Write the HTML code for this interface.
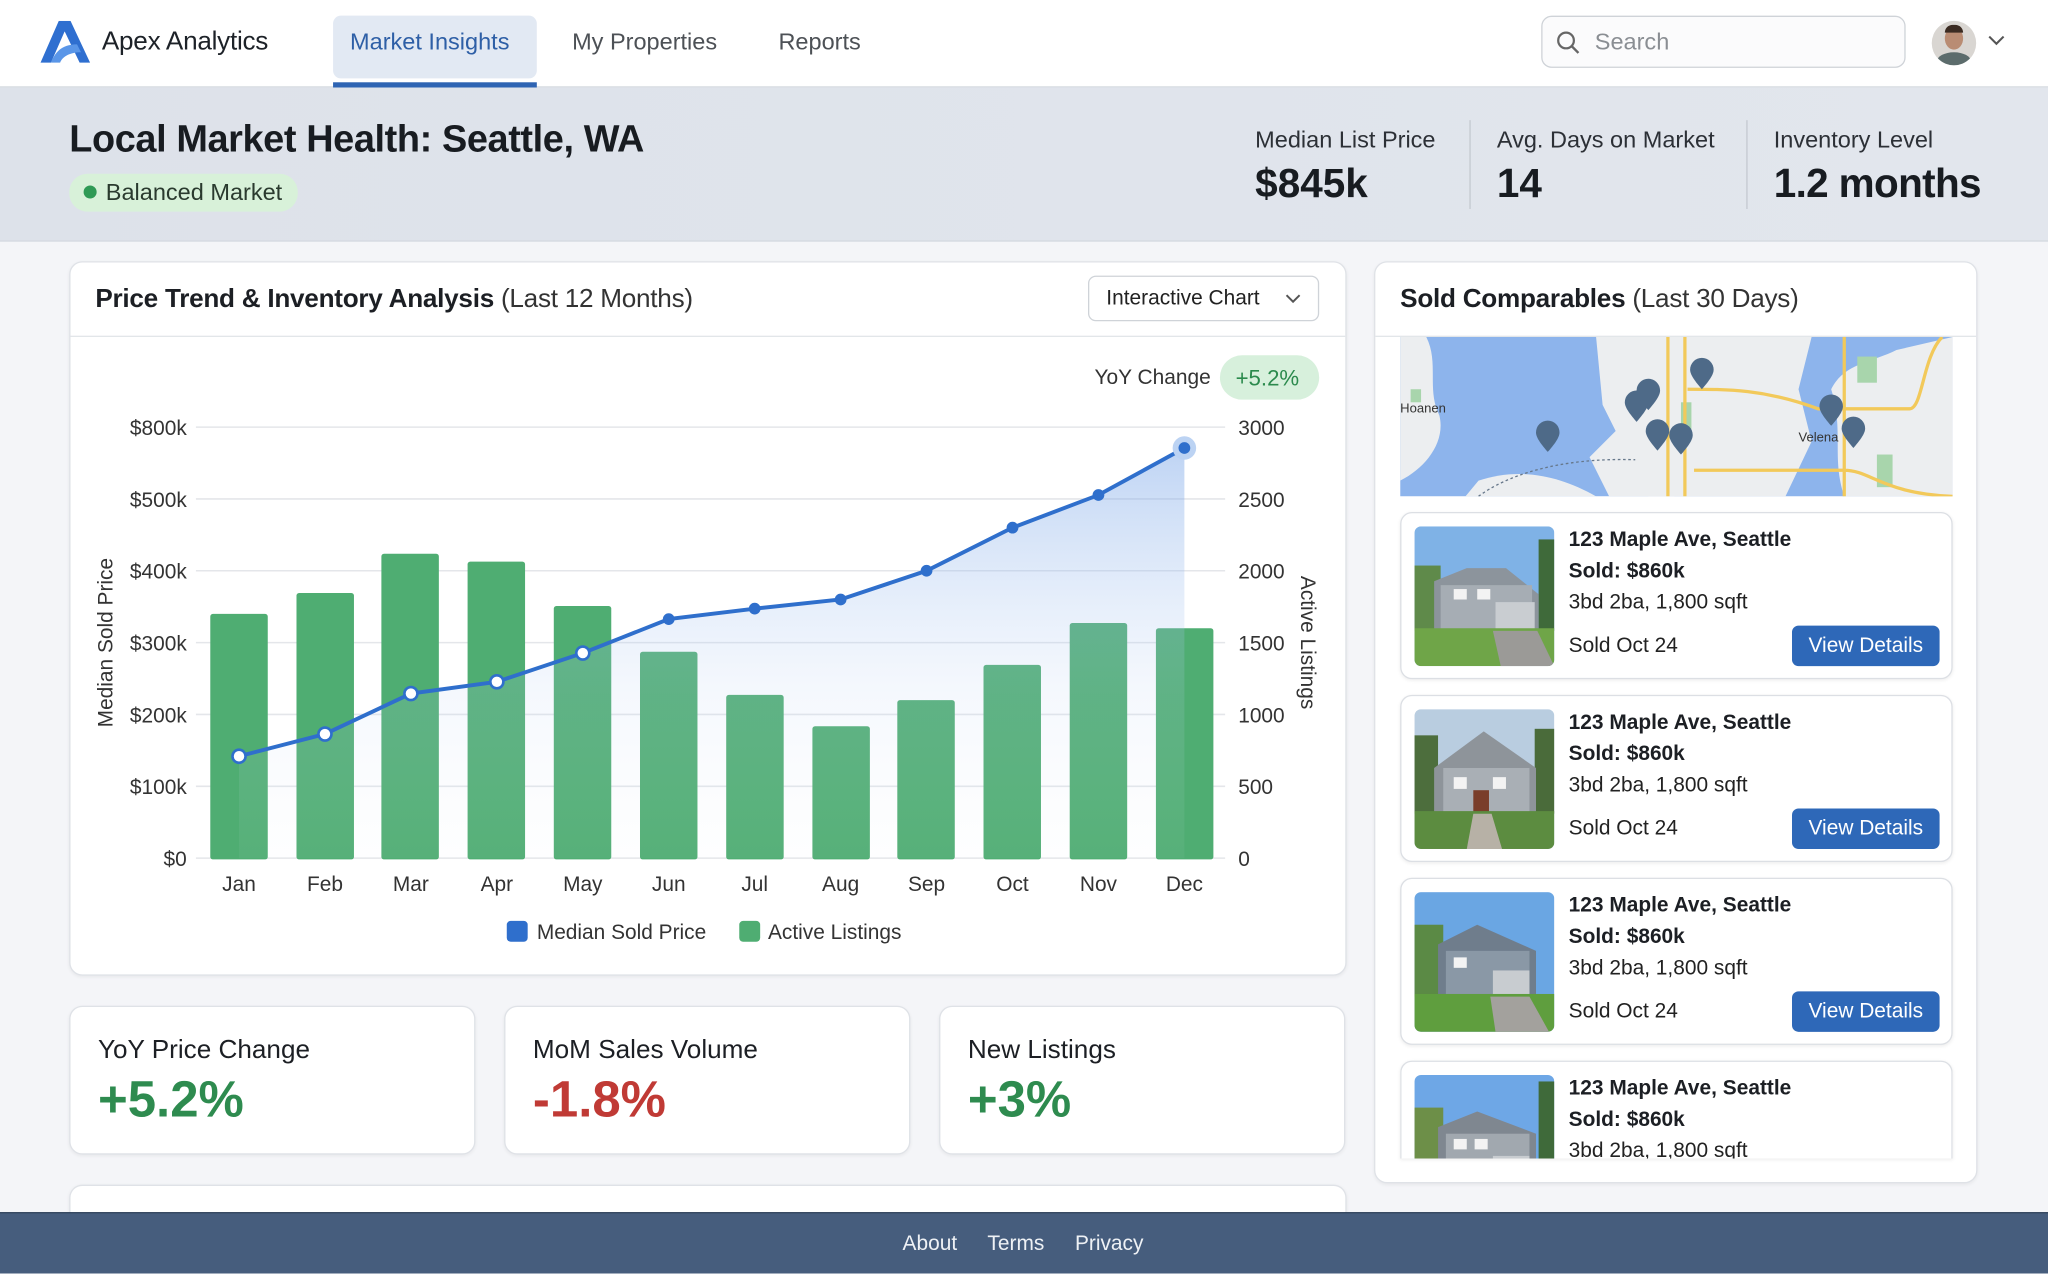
<!DOCTYPE html>
<html><head><meta charset="utf-8">
<style>
*{box-sizing:border-box;margin:0;padding:0}
html,body{width:2048px;height:1274px;overflow:hidden;background:#f4f5f7;font-family:"Liberation Sans",sans-serif;color:#1d2228}
#w{position:absolute;left:0;top:0;width:1568px;height:975px;transform:scale(1.306122);transform-origin:0 0;background:#f4f5f8}
.a{position:absolute;white-space:nowrap}
.card{position:absolute;background:#fff;border:1px solid #dfe2e7;border-radius:10px;box-shadow:0 1px 3px rgba(0,0,0,.06)}
.lc{position:absolute;left:1072px;width:423px;height:128px;background:#fff;border:1px solid #dcdfe4;border-radius:9px;box-shadow:0 1px 3px rgba(0,0,0,.07);overflow:hidden}
.lc svg{position:absolute;left:10px;top:10px;border-radius:5px}
.lc .t1{position:absolute;left:128px;top:12px;font-size:16px;font-weight:bold;color:#1c1f24}
.lc .t2{position:absolute;left:128px;top:36px;font-size:16px;font-weight:bold;color:#1c1f24}
.lc .t3{position:absolute;left:128px;top:60px;font-size:16px;color:#222}
.lc .t4{position:absolute;left:128px;top:93px;font-size:16px;color:#222}
.lc .btn{position:absolute;left:299px;top:86px;width:113px;height:31px;background:#2e68b8;color:#fff;border-radius:5px;font-size:16px;text-align:center;line-height:31px}
</style></head><body><div id="w">

<!-- nav -->
<div class="a" style="left:0;top:0;width:1568px;height:67px;background:#fff;border-bottom:1px solid #d9dde3"></div>
<svg class="a" style="left:31px;top:16px" width="38" height="32" viewBox="0 0 38 32"><path d="M14 0h9l15 32h-8L18.5 8 8 32H0z" fill="#2f6fd0"/><path d="M8 32c4-10 10-14 20-14l3 6c-8 0-14 3-16 8z" fill="#5a96e8"/></svg>
<div class="a" style="left:78px;top:21px;font-size:20px;color:#1d2228;letter-spacing:-0.2px">Apex Analytics</div>
<div class="a" style="left:255px;top:12px;width:156px;height:48px;background:#e2e9f3;border-radius:6px"></div>
<div class="a" style="left:255px;top:63px;width:156px;height:4px;background:#2e64b3"></div>
<div class="a" style="left:268px;top:22px;font-size:18px;color:#2e5fa6">Market Insights</div>
<div class="a" style="left:438px;top:22px;font-size:18px;color:#4d5156">My Properties</div>
<div class="a" style="left:596px;top:22px;font-size:18px;color:#4d5156">Reports</div>
<div class="a" style="left:1180px;top:12px;width:279px;height:40px;border:1px solid #cfd3d8;border-radius:8px;background:#fbfbfc"></div>
<svg class="a" style="left:1191px;top:23px" width="20" height="20" viewBox="0 0 20 20"><circle cx="8" cy="8" r="6" fill="none" stroke="#666" stroke-width="1.7"/><path d="M12.5 12.5l5 5" stroke="#666" stroke-width="1.8"/></svg>
<div class="a" style="left:1221px;top:22px;font-size:18px;color:#8a8e93">Search</div>
<div class="a" style="left:1479px;top:16px;width:34px;height:34px;border-radius:50%;background:#d9d6d2;overflow:hidden"><div style="position:absolute;left:10px;top:5px;width:14px;height:17px;border-radius:50%;background:#b98c73"></div><div style="position:absolute;left:10px;top:3px;width:14px;height:6px;border-radius:6px 6px 0 0;background:#3b2b22"></div><div style="position:absolute;left:4px;top:24px;width:26px;height:14px;border-radius:50% 50% 0 0;background:#5c6c6c"></div></div>
<svg class="a" style="left:1522px;top:27px" width="13" height="9"><path d="M1 1l5.5 5.5L12 1" fill="none" stroke="#555" stroke-width="1.6"/></svg>

<!-- header band -->
<div class="a" style="left:0;top:67px;width:1568px;height:118px;background:linear-gradient(90deg,#dde2ea,#e2e6ed);border-bottom:1px solid #d2d7de"></div>
<div class="a" style="left:53px;top:91px;font-size:29px;font-weight:bold;color:#181c21;letter-spacing:-0.3px">Local Market Health: Seattle, WA</div>
<div class="a" style="left:53px;top:133px;width:175px;height:29px;background:#d8f1d9;border-radius:14px"></div>
<div class="a" style="left:64px;top:142px;width:10px;height:10px;border-radius:50%;background:#2f9a55"></div>
<div class="a" style="left:81px;top:137px;font-size:18px;color:#2a3a2e">Balanced Market</div>
<div class="a" style="left:961px;top:97px;font-size:18px;color:#2c3036">Median List Price</div>
<div class="a" style="left:961px;top:123px;font-size:31px;font-weight:bold;color:#181c21">$845k</div>
<div class="a" style="left:1125px;top:92px;width:1px;height:68px;background:#c4c9d0"></div>
<div class="a" style="left:1146px;top:97px;font-size:18px;color:#2c3036">Avg. Days on Market</div>
<div class="a" style="left:1146px;top:123px;font-size:31px;font-weight:bold;color:#181c21">14</div>
<div class="a" style="left:1337px;top:92px;width:1px;height:68px;background:#c4c9d0"></div>
<div class="a" style="left:1358px;top:97px;font-size:18px;color:#2c3036">Inventory Level</div>
<div class="a" style="left:1358px;top:123px;font-size:31px;font-weight:bold;color:#181c21;letter-spacing:-0.5px">1.2 months</div>

<!-- chart card -->
<div class="card" style="left:53px;top:200px;width:978px;height:547px"></div>
<div class="a" style="left:54px;top:257px;width:976px;height:1px;background:#e2e5e9"></div>
<div class="a" style="left:73px;top:218px;font-size:20px;color:#1c1f24;letter-spacing:-0.2px"><b style="font-weight:bold">Price Trend &amp; Inventory Analysis</b> <span style="color:#333">(Last 12 Months)</span></div>
<div class="a" style="left:833px;top:211px;width:177px;height:35px;border:1px solid #cfd3d8;border-radius:6px;background:#fff"></div>
<div class="a" style="left:847px;top:220px;font-size:16px;color:#222">Interactive Chart</div>
<svg class="a" style="left:984px;top:225px" width="12" height="8"><path d="M1 1l5 5 5-5" fill="none" stroke="#555" stroke-width="1.5"/></svg>
<div class="a" style="left:838px;top:281px;font-size:16px;color:#333">YoY Change</div>
<div class="a" style="left:934px;top:272px;width:76px;height:34px;border-radius:17px;background:#d7f0dc"></div>
<div class="a" style="left:946px;top:280px;font-size:17px;color:#2b8a4d">+5.2%</div>

<svg class="a" style="left:0;top:0" width="1040" height="740">
<defs><linearGradient id="g" x1="0" y1="0" x2="0" y2="1"><stop offset="0" stop-color="#6f9fe6" stop-opacity=".45"/><stop offset=".6" stop-color="#bcd2f3" stop-opacity=".15"/><stop offset="1" stop-color="#e6eefa" stop-opacity=".05"/></linearGradient></defs>
<g stroke="#e4e6ea" stroke-width="1.2">
<line x1="150" x2="938" y1="327" y2="327"/><line x1="150" x2="938" y1="382" y2="382"/><line x1="150" x2="938" y1="437" y2="437"/><line x1="150" x2="938" y1="492" y2="492"/><line x1="150" x2="938" y1="547" y2="547"/><line x1="150" x2="938" y1="602" y2="602"/><line x1="150" x2="938" y1="657" y2="657"/></g>
<g font-size="16" fill="#333" text-anchor="end"><text x="143" y="333">$800k</text><text x="143" y="388">$500k</text><text x="143" y="443">$400k</text><text x="143" y="498">$300k</text><text x="143" y="553">$200k</text><text x="143" y="608">$100k</text><text x="143" y="663">$0</text></g>
<g font-size="16" fill="#333"><text x="948" y="333">3000</text><text x="948" y="388">2500</text><text x="948" y="443">2000</text><text x="948" y="498">1500</text><text x="948" y="553">1000</text><text x="948" y="608">500</text><text x="948" y="663">0</text></g>
<text transform="translate(86,492) rotate(-90)" font-size="16" fill="#333" text-anchor="middle">Median Sold Price</text>
<text transform="translate(996,492) rotate(90)" font-size="16" fill="#333" text-anchor="middle">Active Listings</text>
<g fill="#4fad72">
<rect x="161" y="470" width="44" height="188" rx="2"/><rect x="227" y="454" width="44" height="204" rx="2"/><rect x="292" y="424" width="44" height="234" rx="2"/><rect x="358" y="430" width="44" height="228" rx="2"/><rect x="424" y="464" width="44" height="194" rx="2"/><rect x="490" y="499" width="44" height="159" rx="2"/><rect x="556" y="532" width="44" height="126" rx="2"/><rect x="622" y="556" width="44" height="102" rx="2"/><rect x="687" y="536" width="44" height="122" rx="2"/><rect x="753" y="509" width="44" height="149" rx="2"/><rect x="819" y="477" width="44" height="181" rx="2"/><rect x="885" y="481" width="44" height="177" rx="2"/></g>
<path d="M183 579L248.8 562L314.6 531L380.4 522L446.2 500L512 474L577.8 466L643.6 459L709.4 437L775.2 404L841 379L906.8 343L906.8 657L183 657Z" fill="url(#g)"/>
<path d="M183 579L248.8 562L314.6 531L380.4 522L446.2 500L512 474L577.8 466L643.6 459L709.4 437L775.2 404L841 379L906.8 343" fill="none" stroke="#2f6fcc" stroke-width="3"/>
<g fill="#fff" stroke="#2f6fcc" stroke-width="2"><circle cx="183" cy="579" r="5"/><circle cx="248.8" cy="562" r="5"/><circle cx="314.6" cy="531" r="5"/><circle cx="380.4" cy="522" r="5"/><circle cx="446.2" cy="500" r="5"/></g>
<g fill="#2f6fcc"><circle cx="512" cy="474" r="4.5"/><circle cx="577.8" cy="466" r="4.5"/><circle cx="643.6" cy="459" r="4.5"/><circle cx="709.4" cy="437" r="4.5"/><circle cx="775.2" cy="404" r="4.5"/><circle cx="841" cy="379" r="4.5"/><circle cx="906.8" cy="343" r="9" fill="#bcd3f3"/><circle cx="906.8" cy="343" r="4.5"/></g>
<g font-size="16" fill="#333" text-anchor="middle"><text x="183" y="682">Jan</text><text x="248.8" y="682">Feb</text><text x="314.6" y="682">Mar</text><text x="380.4" y="682">Apr</text><text x="446.2" y="682">May</text><text x="512" y="682">Jun</text><text x="577.8" y="682">Jul</text><text x="643.6" y="682">Aug</text><text x="709.4" y="682">Sep</text><text x="775.2" y="682">Oct</text><text x="841" y="682">Nov</text><text x="906.8" y="682">Dec</text></g>
<rect x="388" y="705" width="16" height="16" rx="3" fill="#2f6fcc"/><text x="411" y="719" font-size="16" fill="#333">Median Sold Price</text>
<rect x="566" y="705" width="16" height="16" rx="3" fill="#4fad72"/><text x="588" y="719" font-size="16" fill="#333">Active Listings</text>
</svg>

<!-- stat cards -->
<div class="card" style="left:53px;top:770px;width:311px;height:114px"></div>
<div class="a" style="left:75px;top:793px;font-size:20px;color:#1c1f24">YoY Price Change</div>
<div class="a" style="left:75px;top:821px;font-size:39px;font-weight:bold;color:#2e8b4f">+5.2%</div>
<div class="card" style="left:386px;top:770px;width:311px;height:114px"></div>
<div class="a" style="left:408px;top:793px;font-size:20px;color:#1c1f24">MoM Sales Volume</div>
<div class="a" style="left:408px;top:821px;font-size:39px;font-weight:bold;color:#c03a35">-1.8%</div>
<div class="card" style="left:719px;top:770px;width:311px;height:114px"></div>
<div class="a" style="left:741px;top:793px;font-size:20px;color:#1c1f24">New Listings</div>
<div class="a" style="left:741px;top:821px;font-size:39px;font-weight:bold;color:#2e8b4f">+3%</div>
<div class="card" style="left:53px;top:907px;width:978px;height:40px"></div>

<!-- comparables -->
<div class="card" style="left:1052px;top:200px;width:462px;height:706px"></div>
<div class="a" style="left:1053px;top:257px;width:460px;height:1px;background:#e2e5e9"></div>
<div class="a" style="left:1072px;top:218px;font-size:20px;color:#1c1f24;letter-spacing:-0.2px"><b>Sold Comparables</b> <span style="color:#333">(Last 30 Days)</span></div>
<svg class="a" style="left:1072px;top:258px" width="423" height="122" viewBox="0 0 423 122">
<rect width="423" height="122" fill="#8db4ec"/>
<path d="M0 0h20c10 20 0 40 10 60 5 20-10 40-30 50z" fill="#eceef0"/>
<path d="M150 0h60l10 40-20 30 10 52H160l-15-30 20-20-10-20z" fill="#eceef0"/>
<path d="M200 0h115l-10 40 10 40-20 42H190l10-40z" fill="#eceef0"/>
<path d="M330 40c10-20 30-20 50-30l43-10v122H340c-10-30 0-50-10-82z" fill="#eceef0"/>
<path d="M60 110c30-10 60-5 90 12H50z" fill="#eceef0"/>
<g fill="#a8d5ac"><rect x="215" y="50" width="8" height="25"/><rect x="350" y="15" width="15" height="20"/><rect x="365" y="90" width="12" height="25"/><rect x="8" y="40" width="8" height="10"/></g>
<g fill="none" stroke="#f2c95a" stroke-width="2.5"><path d="M205 0v122M218 0v122M220 40c30 0 60 0 100 15h70c10 0 10-40 25-55M225 102h115c20 0 30 18 83 20M340 0v122"/></g>
<path d="M60 122c20-15 60-30 120-28" fill="none" stroke="#66778a" stroke-dasharray="2 2"/>
<text x="0" y="58" font-size="10" fill="#333">Hoanen</text><text x="305" y="80" font-size="10" fill="#333">Velena</text>
<g fill="#4e6a88"><path d="M113 88c-7-8-9-12-9-15a9 9 0 0118 0c0 3-2 7-9 15z"/><path d="M181 65c-7-8-9-12-9-15a9 9 0 0118 0c0 3-2 7-9 15z"/><path d="M190 56c-7-8-9-12-9-15a9 9 0 0118 0c0 3-2 7-9 15z"/><path d="M231 40c-7-8-9-12-9-15a9 9 0 0118 0c0 3-2 7-9 15z"/><path d="M197 87c-7-8-9-12-9-15a9 9 0 0118 0c0 3-2 7-9 15z"/><path d="M215 90c-7-8-9-12-9-15a9 9 0 0118 0c0 3-2 7-9 15z"/><path d="M330 68c-7-8-9-12-9-15a9 9 0 0118 0c0 3-2 7-9 15z"/><path d="M347 85c-7-8-9-12-9-15a9 9 0 0118 0c0 3-2 7-9 15z"/></g>
</svg>

<div class="lc" style="top:392px"><svg width="107" height="107" viewBox="0 0 107 107"><rect width="107" height="107" fill="#7fb2e6"/><rect y="30" width="20" height="50" fill="#5f8a4a"/><rect x="95" y="10" width="12" height="70" fill="#3f6a3a"/><path d="M15 42l25-10h30l25 20v28H15z" fill="#8c949c"/><rect x="20" y="45" width="70" height="35" fill="#a6adb4"/><rect x="62" y="58" width="30" height="22" fill="#c9cdd1"/><rect x="30" y="48" width="10" height="8" fill="#f3f3f3"/><rect x="48" y="48" width="10" height="8" fill="#f3f3f3"/><rect y="78" width="107" height="29" fill="#6fa548"/><path d="M60 80h34l13 27H66z" fill="#9b9a97"/></svg><div class="t1">123 Maple Ave, Seattle</div><div class="t2">Sold: $860k</div><div class="t3">3bd 2ba, 1,800 sqft</div><div class="t4">Sold Oct 24</div><div class="btn">View Details</div></div>
<div class="lc" style="top:532px"><svg width="107" height="107" viewBox="0 0 107 107"><rect width="107" height="107" fill="#b9cde0"/><rect y="20" width="18" height="60" fill="#4d6e3d"/><rect x="92" y="15" width="15" height="65" fill="#4a6b3a"/><path d="M15 45l38-28 40 28v35H15z" fill="#8e949a"/><rect x="22" y="45" width="66" height="35" fill="#a9afb5"/><rect x="30" y="52" width="10" height="9" fill="#f3f3f3"/><rect x="60" y="52" width="10" height="9" fill="#f3f3f3"/><rect x="45" y="62" width="12" height="18" fill="#7a3e2a"/><rect y="78" width="107" height="29" fill="#5c8c40"/><path d="M45 80h14l8 27H40z" fill="#b7b1a6"/></svg><div class="t1">123 Maple Ave, Seattle</div><div class="t2">Sold: $860k</div><div class="t3">3bd 2ba, 1,800 sqft</div><div class="t4">Sold Oct 24</div><div class="btn">View Details</div></div>
<div class="lc" style="top:672px"><svg width="107" height="107" viewBox="0 0 107 107"><rect width="107" height="107" fill="#6aa6e3"/><rect y="25" width="22" height="55" fill="#5b8a45"/><path d="M18 40l30-15 45 20v35H18z" fill="#6f7d8c"/><rect x="24" y="45" width="64" height="35" fill="#8a98a6"/><rect x="60" y="60" width="28" height="20" fill="#c8ccd0"/><rect x="30" y="50" width="10" height="8" fill="#f3f3f3"/><rect y="78" width="107" height="29" fill="#5f9e3e"/><path d="M58 80h30l15 27H62z" fill="#a3a19d"/></svg><div class="t1">123 Maple Ave, Seattle</div><div class="t2">Sold: $860k</div><div class="t3">3bd 2ba, 1,800 sqft</div><div class="t4">Sold Oct 24</div><div class="btn">View Details</div></div>
<div class="lc" style="top:812px;height:75px;border-bottom:none;border-radius:9px 9px 0 0"><svg width="107" height="107" viewBox="0 0 107 107"><rect width="107" height="107" fill="#6ea7e6"/><rect y="25" width="22" height="55" fill="#6d8f48"/><rect x="95" y="5" width="12" height="75" fill="#3f6a3a"/><path d="M18 40l30-12 45 17v35H18z" fill="#7f8790"/><rect x="24" y="45" width="64" height="35" fill="#a1a8af"/><rect x="30" y="49" width="10" height="8" fill="#f3f3f3"/><rect x="46" y="49" width="10" height="8" fill="#f3f3f3"/><rect x="60" y="62" width="28" height="18" fill="#c8ccd0"/></svg><div class="t1">123 Maple Ave, Seattle</div><div class="t2">Sold: $860k</div><div class="t3">3bd 2ba, 1,800 sqft</div></div>

<!-- footer -->
<div class="a" style="left:0;top:928px;width:1568px;height:47px;background:#465d7d;border-top:1px solid #34465f"></div>
<div class="a" style="left:691px;top:944px;font-size:16px;color:#eef1f5">About</div>
<div class="a" style="left:756px;top:944px;font-size:16px;color:#eef1f5">Terms</div>
<div class="a" style="left:823px;top:944px;font-size:16px;color:#eef1f5">Privacy</div>
</div></body></html>
